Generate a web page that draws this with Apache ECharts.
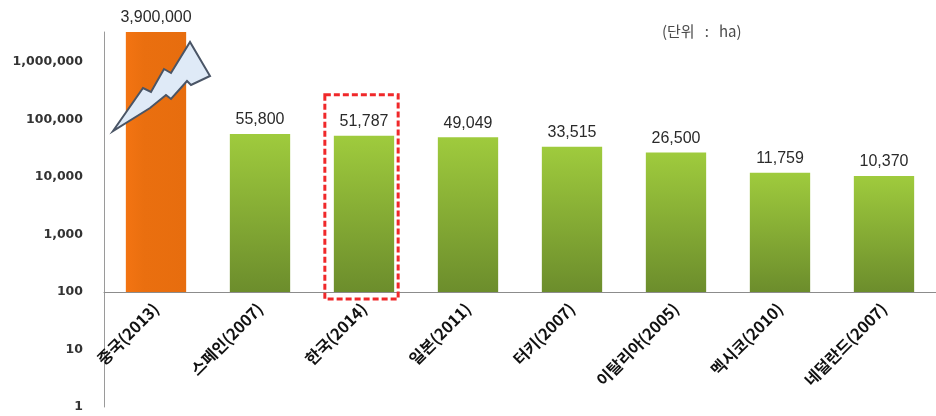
<!DOCTYPE html>
<html>
<head>
<meta charset="utf-8">
<script src="https://cdn.jsdelivr.net/npm/echarts@6/dist/echarts.min.js"></script>
<style>
  html, body { margin: 0; padding: 0; background: #fff; }
  #chart { width: 936px; height: 416px; }
</style>
</head>
<body>
<div id="chart"></div>
<script>
// Organic farmland area by country (unit: ha), log scale
const categories = ['중국(2013)', '스페인(2007)', '한국(2014)', '일본(2011)', '터키(2007)', '이탈리아(2005)', '멕시코(2010)', '네덜란드(2007)'];
const areas = [3900000, 55800, 51787, 49049, 33515, 26500, 11759, 10370];
const highlighted = ['중국(2013)'];        // drawn in orange
const boxed = ['한국(2014)'];              // framed with a red dashed box
const unitText = '(단위   :   ha)';

const BASE_VALUE = 100;    // bars rise from this level
const Y_MIN = 1;
const Y_MAX = 3.3e6;       // axis top; taller bars are cut off here

const GRID = { left: 104, right: -10, top: 32, bottom: 9 };
const gridHeight = 416 - GRID.top - GRID.bottom;
const baseOffset = -gridHeight * Math.log10(BASE_VALUE / Y_MIN) / Math.log10(Y_MAX / Y_MIN);

const chart = echarts.init(document.getElementById('chart'), null, { renderer: 'canvas' });

const fmt = v => Math.round(v).toLocaleString('en-US');

// lightning-bolt "cut" marker laid over a bar that runs past the axis top
function boltPoints(cx, y0) {
  const rel = [[-43, 99], [-13, 56], [-5, 60], [8, 37], [15, 41], [34, 10], [54, 44],
               [35, 53], [31, 49], [15, 67], [10, 63], [-6, 76]];
  return rel.map(p => [cx + p[0], y0 + p[1]]);
}

function renderBar(params, api) {
  const idx = api.value(0);
  const val = api.value(1);
  const name = categories[idx];
  const cs = params.coordSys;
  const top = api.coord([idx, val]);
  const base = api.coord([idx, BASE_VALUE]);
  const bw = api.size([1, 0])[0] * 0.58;
  const cx = top[0];
  const topY = Math.max(top[1], cs.y);
  const clipped = top[1] < cs.y;
  const isHi = highlighted.indexOf(name) >= 0;

  const fill = isHi
    ? new echarts.graphic.LinearGradient(0, 0, 1, 0, [
        { offset: 0, color: '#f37412' }, { offset: 0.3, color: '#ea6f0f' }, { offset: 1, color: '#e76d0e' }])
    : new echarts.graphic.LinearGradient(0, 0, 0, 1, [
        { offset: 0, color: '#9fcb3d' }, { offset: 1, color: '#6c8d2c' }]);

  const children = [{
    type: 'rect',
    shape: { x: cx - bw / 2, y: topY, width: bw, height: base[1] - topY },
    style: { fill: fill }
  }, {
    type: 'text',
    x: cx, y: topY - 14,
    style: {
      text: fmt(val), align: 'center', verticalAlign: 'middle',
      font: '16px "Liberation Sans", Arial, sans-serif', fill: '#2a2a2a'
    }
  }];

  if (clipped) {
    children.push({
      type: 'polygon',
      shape: { points: boltPoints(cx, cs.y) },
      style: { fill: '#dfeaf7', stroke: '#4a5566', lineWidth: 2, lineJoin: 'miter' }
    });
  }

  if (boxed.indexOf(name) >= 0) {
    children.push({
      type: 'rect',
      shape: { x: cx - bw / 2 - 9, y: topY - 41, width: bw + 13, height: base[1] - topY + 48 },
      style: { fill: 'none', stroke: '#f0282a', lineWidth: 3, lineDash: [6, 3] }
    });
  }

  return { type: 'group', children: children };
}

chart.setOption({
  animation: false,
  backgroundColor: '#fff',
  grid: GRID,
  graphic: [{
    type: 'text', left: 662, top: 24,
    style: { text: unitText, font: '15px "Noto Sans CJK KR", sans-serif', fill: '#4a4a4a' }
  }],
  xAxis: {
    type: 'category',
    data: categories,
    position: 'bottom',
    offset: baseOffset,
    axisLine: { lineStyle: { color: '#8c8c8c', width: 1 } },
    axisTick: { show: false },
    axisLabel: {
      rotate: 45, margin: 14, interval: 0,
      fontFamily: '"Noto Sans CJK KR", sans-serif',
      fontSize: 16, fontWeight: 'bold', color: '#111'
    },
    splitLine: { show: false }
  },
  yAxis: {
    type: 'log',
    logBase: 10,
    min: Y_MIN,
    max: Y_MAX,
    axisLine: { show: true, lineStyle: { color: '#9a9a9a', width: 1 } },
    axisTick: { show: false },
    splitLine: { show: false },
    axisLabel: {
      margin: 21,
      showMaxLabel: false,
      fontFamily: '"DejaVu Sans", sans-serif',
      fontSize: 12.5, fontWeight: 'bold', color: '#333',
      formatter: v => {
        const e = Math.log10(v);
        return Math.abs(e - Math.round(e)) < 1e-6 ? fmt(v) : '';
      }
    }
  },
  series: [{
    type: 'custom',
    renderItem: renderBar,
    clip: false,
    encode: { x: 0, y: 1 },
    data: areas.map((v, i) => [i, v])
  }]
});
</script>
</body>
</html>
